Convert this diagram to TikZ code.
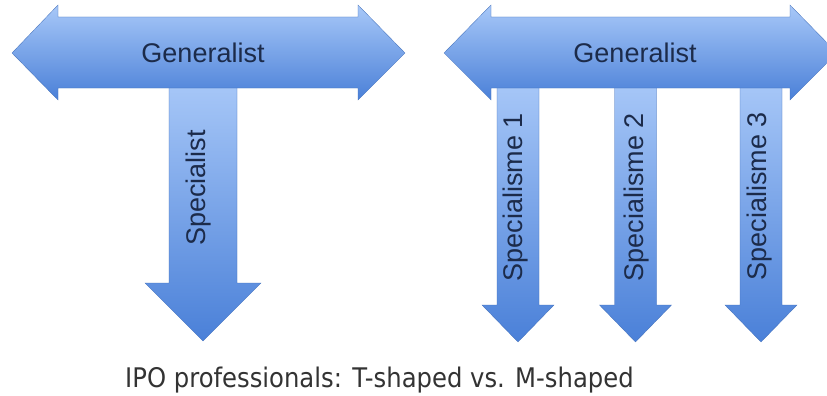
\documentclass[tikz,border=0pt]{standalone}
\usepackage{fontspec}
\setmainfont{Liberation Sans}
\newfontfamily\capfont[FakeStretch=0.9]{DejaVu Sans}
\definecolor{arrowtop}{HTML}{A8C8F8}
\definecolor{arrowbot}{HTML}{4A80D8}
\definecolor{labelblue}{HTML}{1C2B4A}
\definecolor{captiongray}{HTML}{333333}

\begin{document}
\begin{tikzpicture}[x=1pt, y=-1pt,
  arrowfill/.style={top color=arrowtop, bottom color=arrowbot, draw=arrowbot!85!black, line width=0.3pt},
  arrowlabel/.style={text=labelblue, font=\fontsize{27}{32}\selectfont, inner sep=0pt}]
  \useasboundingbox[fill=white] (0,0) rectangle (827,396);

  \shade[arrowfill] (169,80) -- (237,80) -- (237,283) -- (261,283) -- (203,341)
    -- (145,283) -- (169,283) -- cycle;
  \foreach \c in {518,635.5,761} {
    \shade[arrowfill] (\c-21,80) -- (\c+21,80) -- (\c+21,305) -- (\c+36,305) -- (\c,342)
      -- (\c-36,305) -- (\c-21,305) -- cycle;
  }

  \shade[arrowfill] (12,53) -- (58,5) -- (58,17) -- (358,17) -- (358,5) -- (405,53)
    -- (358,100) -- (358,88) -- (58,88) -- (58,100) -- cycle;
  \shade[arrowfill] (444,53) -- (491,5) -- (491,17) -- (790,17) -- (790,5) -- (837,53)
    -- (790,100) -- (790,88) -- (491,88) -- (491,100) -- cycle;

  \node[arrowlabel] (genT) at (203,53) {Generalist};
  \node[arrowlabel] (genM) at (635,53) {Generalist};
  \node[arrowlabel, rotate=90] (specT) at (199,188) {Specialist};
  \node[arrowlabel, rotate=90] (spec1) at (516,197) {Specialisme 1};
  \node[arrowlabel, rotate=90] (spec2) at (637,197) {Specialisme 2};
  \node[arrowlabel, rotate=90] (spec3) at (760,196) {Specialisme 3};

  \node[text=captiongray, font=\capfont\fontsize{27}{32}\selectfont, anchor=base west, inner sep=0pt]
    (caption) at (125,387) {IPO professionals: T-shaped vs. M-shaped};
\end{tikzpicture}
\end{document}
